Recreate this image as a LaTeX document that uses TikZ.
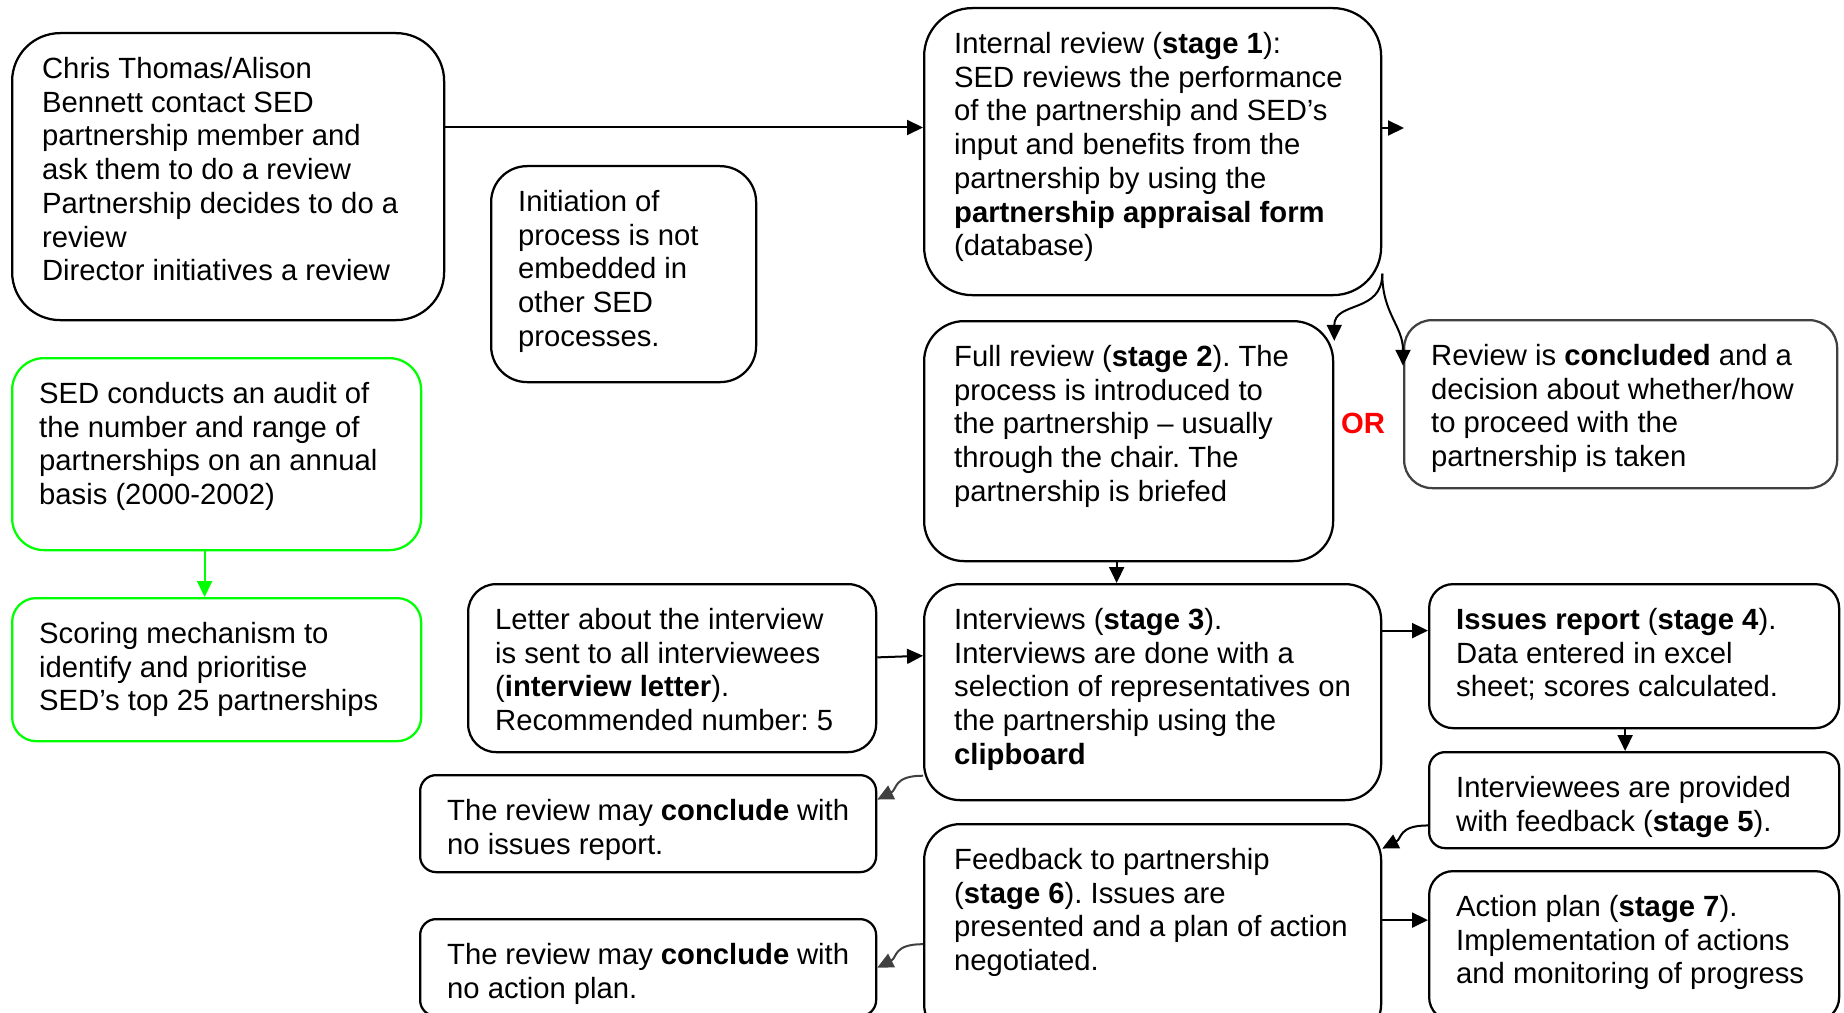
\documentclass[tikz,border=0pt]{standalone}
\usepackage{fontspec}
\setmainfont{Liberation Sans}
\usetikzlibrary{arrows.meta,calc}
\definecolor{brightgreen}{RGB}{0,255,0}
\definecolor{darkgrey}{RGB}{64,64,64}
\definecolor{orred}{RGB}{255,0,0}
\frenchspacing
\tikzset{>={Triangle[length=6.4pt,width=6pt]}}
\tikzset{card/.style={draw,line width=0.9pt,anchor=north west,inner xsep=10.8pt,inner ysep=9.6pt,font=\fontsize{11.7}{13.5}\selectfont}}
\tikzset{green card/.style={card,draw=brightgreen}}
\tikzset{link/.style={->,line width=0.8pt}}
\tikzset{grey link/.style={link,draw=darkgrey}}
% text block of a card, size of the card in px
\def\cardtext(#1,#2)#3{\parbox[c][\dimexpr #2pt*4/10-19.2pt\relax][t]{\dimexpr #1pt*4/10-21.6pt\relax}{#3}}

\begin{document}
\begin{tikzpicture}[x=0.4pt,y=-0.4pt]
  \useasboundingbox (0,0) rectangle (1844,1012);
  % start of a review
  \node[card,inner xsep=12pt,rounded corners=19.2pt] (chris) at (11,32) {\cardtext(426,287){Chris Thomas/Alison\\Bennett contact SED\\partnership member and\\ask them to do a review\\Partnership decides to do a\\review\\Director initiatives a review}};
  \node[card,rounded corners=14.4pt] (init) at (490,165) {\cardtext(265,216){Initiation of\\process is not\\embedded in\\other SED\\processes.}};
  % audit
  \node[green card,rounded corners=12.8pt] (audit) at (11,357) {\cardtext(409,192){SED conducts an audit of\\the number and range of\\partnerships on an annual\\basis (2000-2002)}};
  \node[green card,rounded corners=9.6pt] (scoring) at (11,597) {\cardtext(409,143){Scoring mechanism to\\identify and prioritise\\SED’s top 25 partnerships}};
  % stages 1 and 2
  \node[card,inner xsep=12pt,rounded corners=19.2pt] (internal) at (923,7) {\cardtext(451,287){Internal review (\textbf{stage 1}):\\SED reviews the performance\\of the partnership and SED’s\\input and benefits from the\\partnership by using the\\\textbf{partnership appraisal form}\\(database)}};
  \node[card,inner xsep=12pt,rounded corners=16pt] (full) at (923,320) {\cardtext(403,240){Full review (\textbf{stage 2}). The\\process is introduced to\\the partnership -- usually\\through the chair. The\\partnership is briefed}};
  \node[card,draw=darkgrey,rounded corners=11.2pt] (concl) at (1403,319) {\cardtext(433,168){Review is \textbf{concluded} and a\\decision about whether/how\\to proceed with the\\partnership is taken}};
  \node[font=\fontsize{11.7}{13.5}\selectfont\bfseries,text=orred] (or) at (1363,423) {OR};
  % stages 3 to 7
  \node[card,rounded corners=11.2pt] (letter) at (467,583) {\cardtext(408,168){Letter about the interview\\is sent to all interviewees\\(\textbf{interview letter}).\\Recommended number: 5}};
  \node[card,inner xsep=12pt,rounded corners=14.4pt] (interviews) at (923,583) {\cardtext(451,216){Interviews (\textbf{stage 3}).\\Interviews are done with a\\selection of representatives on\\the partnership using the\\\textbf{clipboard}}};
  \node[card,rounded corners=9.6pt] (issues) at (1428,583) {\cardtext(410,144){\textbf{Issues report} (\textbf{stage 4}).\\Data entered in excel\\sheet; scores calculated.}};
  \node[card,rounded corners=6.4pt] (stagefive) at (1428,751) {\cardtext(410,96){Interviewees are provided\\with feedback (\textbf{stage 5}).}};
  \node[card,rounded corners=6.4pt] (noissues) at (419,774) {\cardtext(456,97){The review may \textbf{conclude} with\\no issues report.}};
  \node[card,inner xsep=12pt,rounded corners=14.4pt] (feedback) at (923,823) {\cardtext(451,216){Feedback to partnership\\(\textbf{stage 6}). Issues are\\presented and a plan of action\\negotiated.}};
  \node[card,rounded corners=9.6pt] (action) at (1428,870) {\cardtext(410,150){Action plan (\textbf{stage 7}).\\Implementation of actions\\and monitoring of progress}};
  \node[card,rounded corners=6.4pt] (noaction) at (419,918) {\cardtext(456,97){The review may \textbf{conclude} with\\no action plan.}};
  % arrows
  \coordinate (out) at (1404,128);
  \coordinate (fs) at ($(full.south)+(-12,0)$);
  \coordinate (is) at ($(issues.south)+(-9,0)$);
  \coordinate (as) at ($(audit.south)+(-12,0)$);
  \draw[link] (chris.east |- internal.174) -- (internal.174);
  \draw[link] (internal.east |- out) -- (out);
  \draw[link] (internal.-28) .. controls +(0,40) and +(0,-40) .. (full.26);
  \draw[link] (internal.-28) .. controls +(0,40) and +(0,-40) .. (concl.170);
  \draw[link] (fs) -- (fs |- interviews.north);
  \draw[link] (letter.3) -- (interviews.171);
  \draw[link] (interviews.15) -- (interviews.15 -| issues.west);
  \draw[link] (is) -- (is |- stagefive.north);
  \draw[link] (stagefive.187) .. controls +(-30,0) and +(20,-10) .. (feedback.20);
  \draw[link] (feedback.3) -- (feedback.3 -| action.west);
  \draw[grey link] (interviews.200) .. controls +(-30,0) and +(20,-10) .. (noissues.6);
  \draw[grey link] (feedback.183) .. controls +(-30,0) and +(20,-10) .. (noaction.east);
  \draw[link,draw=brightgreen] (as) -- (as |- scoring.north);
\end{tikzpicture}
\end{document}
